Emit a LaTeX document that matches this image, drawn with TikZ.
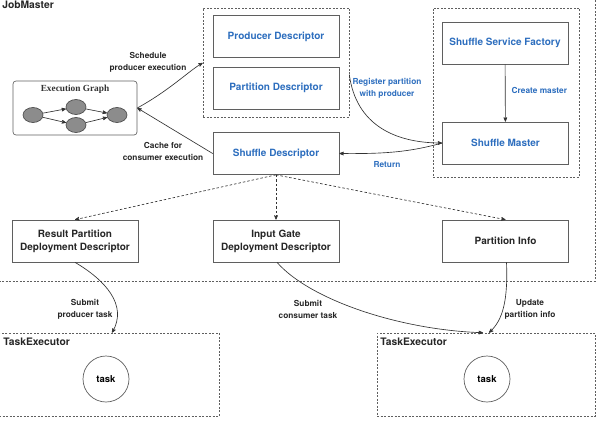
\documentclass[tikz,border=0pt]{standalone}
\usepackage{fontspec}
\setmainfont{TeX Gyre Heros}
\newfontfamily\egserif{Liberation Serif}
\usetikzlibrary{arrows,positioning,shapes.geometric}
\definecolor{descblue}{RGB}{45,110,190}
\definecolor{linegray}{RGB}{95,95,95}
\definecolor{nodegray}{RGB}{140,140,140}
\tikzset{
  box/.style = {draw=linegray, line width=0.7pt, align=center, inner sep=0pt,
    minimum width=126pt, minimum height=42pt,
    font=\fontsize{10}{13}\selectfont\bfseries},
  box_b/.style = {box, text=descblue},% descriptor, blue text
  box_k/.style = {box, text=black!85},% descriptor, black text
  grp_d/.style = {draw=linegray, line width=0.6pt, dash pattern=on 2pt off 1.5pt,
    inner sep=0pt},% dashed group
  lbl_k/.style = {align=center, text=black!85,
    font=\fontsize{8.3}{12}\selectfont\bfseries},
  lbl_b/.style = {lbl_k, text=descblue},
  ttl/.style = {anchor=north west, inner sep=0pt, text=black!85,
    font=\fontsize{10.3}{12}\selectfont\bfseries},
  task_c/.style = {circle, draw=linegray, line width=0.7pt, minimum size=46pt,
    inner sep=0pt, font=\fontsize{9.5}{10}\selectfont\bfseries},
  eg_n/.style = {ellipse, draw=black!70, fill=nodegray, minimum width=20pt,
    minimum height=15pt, inner sep=0pt}
}

\begin{document}
\begin{tikzpicture}[x=1pt,y=-1pt,>=stealth',line width=0.65pt]
  \useasboundingbox (0,0) rectangle (596,420);

  % frames
  \draw[grp_d] (-2,-2) rectangle (595,281);
  \node[ttl] (jm) at (2,1) {JobMaster};
  \node[grp_d, minimum width=220pt, minimum height=83pt] (te1) at (109,374.5) {};
  \node[ttl] (te1t) at (3,338) {TaskExecutor};
  \node[grp_d, minimum width=218pt, minimum height=83pt] (te2) at (486,374.5) {};
  \node[ttl] (te2t) at (380,338) {TaskExecutor};

  % descriptors
  \node[grp_d, minimum width=146pt, minimum height=109pt] (grpP) at (276,62.5) {};
  \node[box_b] (pd) at (276,36.5) {Producer Descriptor};
  \node[box_b, below=9pt of pd] (pa) {Partition Descriptor};
  \node[box_b] (sd) at (276,153.5) {Shuffle Descriptor};

  % shuffle service
  \node[grp_d, minimum width=146pt, minimum height=169pt] (grpS) at (506,92.5) {};
  \node[box_b] (ssf) at (505,43) {Shuffle Service Factory};
  \node[box_b] (sm) at (505.5,143) {Shuffle Master};

  % deployment
  \node[box_k] (rp) at (75,241) {Result Partition\\Deployment Descriptor};
  \node[box_k] (ig) at (276,241) {Input Gate\\Deployment Descriptor};
  \node[box_k] (pi) at (505.5,241) {Partition Info};

  % execution graph
  \node[draw=linegray, rounded corners=3pt, minimum width=124pt, minimum height=54pt]
    (eg) at (75,108) {};
  \node[font=\egserif\fontsize{9.3}{10}\selectfont\bfseries, text=black!80]
    (egt) at (75,89) {Execution Graph};
  \node[eg_n] (e1) at (33,115) {};
  \node[eg_n] (e2) at (76,107) {};
  \node[eg_n] (e3) at (76,125) {};
  \node[eg_n] (e4) at (117,115) {};
  \foreach \a/\b in {e1/e2, e1/e3, e2/e4, e3/e4}
    \draw[->, black!80] (\a) -- (\b);

  % tasks
  \node[task_c] (t1) at (106,379) {task};
  \node[task_c] (t2) at (487,379) {task};

  % job master edges
  \draw[->, black!80] (eg.east) .. controls (170,90) and (190,70) .. (grpP.west |- 0,63);
  \node[lbl_k] (l1) at (148,62.5) {Schedule\\producer execution};
  \draw[->, black!80] (sd.west) -- (eg.east);
  \node[lbl_k] (l2) at (163,151) {Cache for\\consumer execution};
  \draw[->, black!80] ([yshift=-12pt]grpP.east) .. controls (356,125) and (395,143) .. (sm.west);
  \node[lbl_b] (l3) at (387,88.5) {Register partition\\with producer};
  \draw[->, black!80] (sm.west) .. controls (410,152) and (385,154) .. (sd.east);
  \node[lbl_b] (l4) at (387,165) {Return};
  \draw[->, black!80] (ssf) -- (sm);
  \node[lbl_b, anchor=west] (l5) at (508,90) {Create master};

  % dashed edges
  \foreach \t in {rp, ig, pi}
    \draw[->, black!80, dash pattern=on 2.5pt off 2pt] (sd.south) -- (\t.north);

  % task submission
  \draw[->, black!80] ([xshift=0pt]rp.south) .. controls (105,280) and (128,305) .. ([xshift=3pt]te1.north);
  \node[lbl_k] (l6) at (85,309) {Submit\\producer task};
  \draw[->, black!80] ([xshift=1pt]ig.south) .. controls (310,300) and (400,330) .. ([xshift=-3pt]te2.north);
  \node[lbl_k] (l7) at (308,309) {Submit\\consumer task};
  \draw[->, black!80] ([xshift=1pt]pi.south) .. controls (508,300) and (503,320) .. ([xshift=3pt]te2.north);
  \node[lbl_k] (l8) at (530,309) {Update\\partition info};
\end{tikzpicture}
\end{document}
